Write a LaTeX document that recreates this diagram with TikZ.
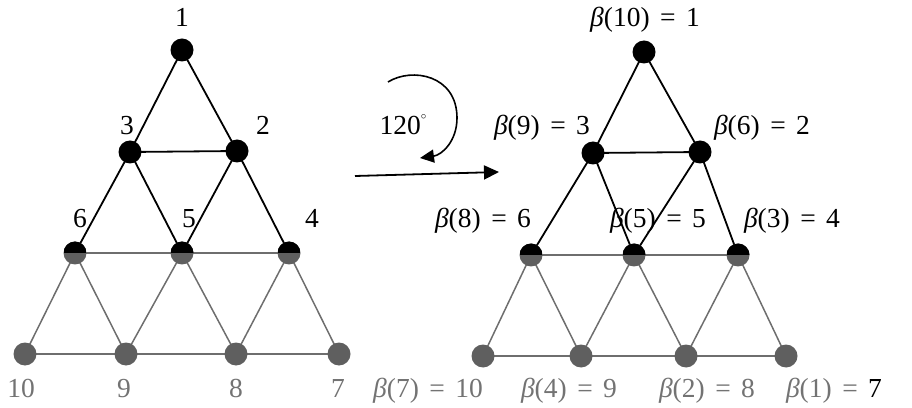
\documentclass[tikz,border=0pt]{standalone}
\usepackage{fontspec}
\setmainfont{Liberation Serif}
\usetikzlibrary{arrows.meta}
\definecolor{ngray}{RGB}{95,95,95}
\definecolor{lgray}{RGB}{110,110,110}
\definecolor{tgray}{RGB}{115,115,115}
\newcommand{\bt}[2]{\textit{β}(#1)\hspace{0.38em}=\hspace{0.38em}#2}
\begin{document}
\begin{tikzpicture}[x=1pt,y=1pt,
  vblack/.style={circle,fill=black,inner sep=0pt,minimum size=23pt},
  vgray/.style={circle,fill=ngray,inner sep=0pt,minimum size=23pt},
  vhalf/.style={vgray,path picture={\fill[black] (path picture bounding box.west) rectangle (path picture bounding box.north east);}},
  bedge/.style={black,line width=1.8pt},
  gedge/.style={lgray,line width=1.5pt},
  lab/.style={anchor=base,inner sep=0pt,font=\fontsize{27.5}{30}\selectfont},
  glab/.style={lab,text=tgray},
  arr/.style={line width=1.8pt,-{Triangle[length=15pt,width=14pt]}}]
\useasboundingbox (0,0) rectangle (912,407);
% ---------- left graph ----------
\coordinate (c1) at (182,357);
\coordinate (c3) at (130,255);
\coordinate (c2) at (237,256);
\coordinate (c6) at (75,154);
\coordinate (c5) at (182,154);
\coordinate (c4) at (289,154);
\coordinate (c10) at (25,53);
\coordinate (c9) at (126,53);
\coordinate (c8) at (236,53);
\coordinate (c7) at (339,53);
\draw[bedge] (c1) -- (c3) -- (c2) -- cycle;
\draw[bedge] (c3) -- (c6);
\draw[bedge] (c3) -- (c5);
\draw[bedge] (c2) -- (c5);
\draw[bedge] (c2) -- (c4);
\draw[gedge] (c6) -- (c5) -- (c4);
\draw[gedge] (c10) -- (c9) -- (c8) -- (c7);
\draw[gedge] (c6) -- (c10);
\draw[gedge] (c6) -- (c9);
\draw[gedge] (c5) -- (c9);
\draw[gedge] (c5) -- (c8);
\draw[gedge] (c4) -- (c8);
\draw[gedge] (c4) -- (c7);
\node[vblack] (n1) at (c1) {};
\node[vblack] (n3) at (c3) {};
\node[vblack] (n2) at (c2) {};
\node[vhalf] (n6) at (c6) {};
\node[vhalf] (n5) at (c5) {};
\node[vhalf] (n4) at (c4) {};
\node[vgray] (n10) at (c10) {};
\node[vgray] (n9) at (c9) {};
\node[vgray] (n8) at (c8) {};
\node[vgray] (n7) at (c7) {};
\node[lab] (l1) at (182,380) {1};
\node[lab] (l3) at (127,272) {3};
\node[lab] (l2) at (263,272) {2};
\node[lab] (l6) at (80,179) {6};
\node[lab] (l5) at (189,179) {5};
\node[lab] (l4) at (312,179) {4};
\node[glab] (l10) at (21,10) {10};
\node[glab] (l9) at (124,10) {9};
\node[glab] (l8) at (236,10) {8};
\node[glab] (l7) at (338,10) {7};
% ---------- arrows ----------
\coordinate (ha) at (355,231);
\coordinate (hb) at (499,235);
\draw[arr] (ha) -- (hb);
\coordinate (ra) at (388,325);
\coordinate (rb) at (457,289);
\coordinate (rc) at (420,249);
\draw[line width=1.6pt,-{Triangle[length=14pt,width=13pt]}] (ra) .. controls (412,340) and (457,332) .. (rb) .. controls (457,266) and (442,252) .. (rc);
\node[lab] (deg) at (403,272) {120\raisebox{0.55em}{\fontsize{11}{12}\selectfont$\circ$}};
% ---------- right graph ----------
\coordinate (d1) at (644,355);
\coordinate (d3) at (593,254);
\coordinate (d2) at (700,255);
\coordinate (d6) at (531,152);
\coordinate (d5) at (634,152);
\coordinate (d4) at (738,152);
\coordinate (d10) at (483,51);
\coordinate (d9) at (581,51);
\coordinate (d8) at (686,51);
\coordinate (d7) at (786,51);
\draw[bedge] (d1) -- (d3) -- (d2) -- cycle;
\draw[bedge] (d3) -- (d6);
\draw[bedge] (d3) -- (d5);
\draw[bedge] (d2) -- (d5);
\draw[bedge] (d2) -- (d4);
\draw[gedge] (d6) -- (d5) -- (d4);
\draw[gedge] (d10) -- (d9) -- (d8) -- (d7);
\draw[gedge] (d6) -- (d10);
\draw[gedge] (d6) -- (d9);
\draw[gedge] (d5) -- (d9);
\draw[gedge] (d5) -- (d8);
\draw[gedge] (d4) -- (d8);
\draw[gedge] (d4) -- (d7);
\node[vblack] (m1) at (d1) {};
\node[vblack] (m3) at (d3) {};
\node[vblack] (m2) at (d2) {};
\node[vhalf] (m6) at (d6) {};
\node[vhalf] (m5) at (d5) {};
\node[vhalf] (m4) at (d4) {};
\node[vgray] (m10) at (d10) {};
\node[vgray] (m9) at (d9) {};
\node[vgray] (m8) at (d8) {};
\node[vgray] (m7) at (d7) {};
\node[lab] (k1) at (645,380) {\bt{10}{1}};
\node[lab] (k3) at (542,272) {\bt{9}{3}};
\node[lab] (k2) at (762,272) {\bt{6}{2}};
\node[lab] (k6) at (483,179) {\bt{8}{6}};
\node[lab] (k5) at (658,179) {\bt{5}{5}};
\node[lab] (k4) at (792,179) {\bt{3}{4}};
\node[glab] (k10) at (428,10) {\bt{7}{10}};
\node[glab] (k9) at (569,10) {\bt{4}{9}};
\node[glab] (k8) at (707,10) {\bt{2}{8}};
\node[lab] (k7) at (834,10) {\textcolor{tgray}{\textit{β}(1)\hspace{0.38em}=\hspace{0.38em}}7};
\end{tikzpicture}
\end{document}
